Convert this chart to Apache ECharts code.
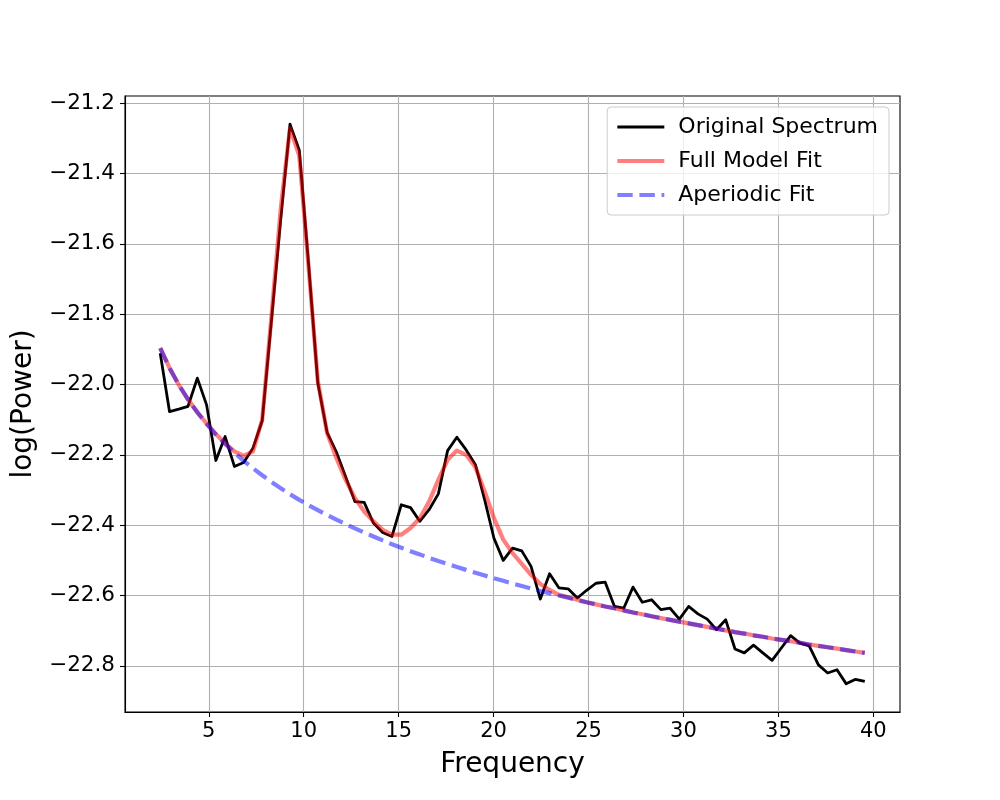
<!DOCTYPE html>
<html>
<head>
<meta charset="utf-8">
<script src="https://cdn.jsdelivr.net/npm/echarts@6/dist/echarts.min.js"></script>
<style>html,body{margin:0;padding:0;background:#fff}#c{width:1000px;height:800px}</style>
</head>
<body>
<div id="c"></div>
<script>
const freqs = [2.441,2.930,3.418,3.906,4.395,4.883,5.371,5.859,6.348,6.836,7.324,7.813,8.301,8.789,9.277,9.766,10.254,10.742,11.230,11.719,12.207,12.695,13.184,13.672,14.160,14.648,15.137,15.625,16.113,16.602,17.090,17.578,18.066,18.555,19.043,19.531,20.020,20.508,20.996,21.484,21.973,22.461,22.949,23.438,23.926,24.414,24.902,25.391,25.879,26.367,26.855,27.344,27.832,28.320,28.809,29.297,29.785,30.273,30.762,31.250,31.738,32.227,32.715,33.203,33.691,34.180,34.668,35.156,35.645,36.133,36.621,37.109,37.598,38.086,38.574,39.063,39.551];

const originalSpectrum = [-21.911,-22.077,-22.070,-22.062,-21.982,-22.058,-22.216,-22.148,-22.233,-22.222,-22.181,-22.103,-21.818,-21.531,-21.260,-21.334,-21.657,-21.996,-22.136,-22.192,-22.262,-22.333,-22.335,-22.394,-22.421,-22.432,-22.342,-22.350,-22.389,-22.356,-22.311,-22.188,-22.150,-22.186,-22.228,-22.328,-22.437,-22.500,-22.465,-22.473,-22.517,-22.610,-22.538,-22.578,-22.581,-22.607,-22.585,-22.565,-22.562,-22.631,-22.636,-22.576,-22.619,-22.612,-22.640,-22.636,-22.667,-22.631,-22.652,-22.667,-22.697,-22.669,-22.752,-22.763,-22.741,-22.763,-22.784,-22.749,-22.714,-22.735,-22.743,-22.797,-22.820,-22.811,-22.851,-22.838,-22.844];

const fullModelFit = [-21.896,-21.953,-22.001,-22.042,-22.079,-22.111,-22.141,-22.167,-22.190,-22.203,-22.190,-22.100,-21.805,-21.500,-21.272,-21.350,-21.665,-21.990,-22.138,-22.209,-22.271,-22.323,-22.361,-22.389,-22.413,-22.427,-22.427,-22.408,-22.380,-22.333,-22.271,-22.214,-22.188,-22.200,-22.235,-22.304,-22.380,-22.441,-22.479,-22.510,-22.541,-22.567,-22.584,-22.598,-22.605,-22.612,-22.619,-22.625,-22.631,-22.636,-22.642,-22.648,-22.653,-22.659,-22.664,-22.669,-22.674,-22.679,-22.684,-22.689,-22.694,-22.699,-22.704,-22.708,-22.713,-22.717,-22.722,-22.726,-22.730,-22.734,-22.739,-22.743,-22.747,-22.751,-22.755,-22.759,-22.763];

const aperiodicFit = [-21.897,-21.953,-22.001,-22.043,-22.079,-22.112,-22.142,-22.169,-22.194,-22.217,-22.238,-22.258,-22.277,-22.295,-22.312,-22.328,-22.343,-22.357,-22.371,-22.384,-22.397,-22.409,-22.421,-22.432,-22.443,-22.454,-22.464,-22.474,-22.483,-22.493,-22.502,-22.510,-22.519,-22.527,-22.535,-22.543,-22.551,-22.558,-22.566,-22.573,-22.580,-22.587,-22.593,-22.600,-22.606,-22.613,-22.619,-22.625,-22.631,-22.636,-22.642,-22.648,-22.653,-22.659,-22.664,-22.669,-22.674,-22.679,-22.684,-22.689,-22.694,-22.699,-22.704,-22.708,-22.713,-22.717,-22.722,-22.726,-22.730,-22.734,-22.739,-22.743,-22.747,-22.751,-22.755,-22.759,-22.763];

const xTicks = [5,10,15,20,25,30,35,40];
const yTicks = [-22.8,-22.6,-22.4,-22.2,-22.0,-21.8,-21.6,-21.4,-21.2];

const FONT = 'DejaVu Sans';
const pairs = arr => freqs.map((f, i) => [f, arr[i]]);
const minus = s => s.replace('-', '\u2212');

const chart = echarts.init(document.getElementById('c'), null, {renderer: 'canvas'});
chart.setOption({
  animation: false,
  backgroundColor: '#ffffff',
  grid: {left: 125, right: 100, top: 96, bottom: 88, show: true, borderColor: '#000', borderWidth: 1.1, backgroundColor: 'transparent'},
  xAxis: {
    type: 'value', min: 0.586, max: 41.406,
    name: 'Frequency', nameLocation: 'middle', nameGap: 39,
    nameTextStyle: {fontFamily: FONT, fontSize: 28, color: '#000'},
    axisLine: {show: true, lineStyle: {color: '#000', width: 1.1}},
    axisTick: {show: true, inside: false, length: 5, lineStyle: {color: '#000', width: 1.1}, customValues: xTicks},
    axisLabel: {customValues: xTicks, margin: 9, fontFamily: FONT, fontSize: 21, color: '#000', formatter: v => minus(String(v))},
    splitLine: {show: true, lineStyle: {color: '#b0b0b0', width: 1.1}}
  },
  yAxis: {
    type: 'value', min: -22.931, max: -21.18,
    name: 'log(Power)', nameLocation: 'middle', nameGap: 75, nameRotate: 90,
    nameTextStyle: {fontFamily: FONT, fontSize: 28, color: '#000'},
    axisLine: {show: true, lineStyle: {color: '#000', width: 1.1}},
    axisTick: {show: true, inside: false, length: 5, lineStyle: {color: '#000', width: 1.1}, customValues: yTicks},
    axisLabel: {customValues: yTicks, margin: 10, fontFamily: FONT, fontSize: 21.5, color: '#000', formatter: v => minus(v.toFixed(1))},
    splitLine: {show: true, lineStyle: {color: '#b0b0b0', width: 1.1}}
  },
  legend: {
    orient: 'vertical', right: 111, top: 107,
    itemWidth: 47, itemHeight: 14, itemGap: 12,
    padding: [9, 11, 9, 8],
    backgroundColor: 'rgba(255,255,255,0.8)', borderColor: '#cccccc', borderWidth: 1, borderRadius: 4,
    itemStyle: {opacity: 0},
    lineStyle: {width: 'inherit', type: 'inherit'},
    textStyle: {fontFamily: FONT, fontSize: 22, color: '#000', padding: [0, 0, 0, 9]},
    data: ['Original Spectrum', 'Full Model Fit', 'Aperiodic Fit']
  },
  series: [
    {name: 'Original Spectrum', type: 'line', data: pairs(originalSpectrum), symbol: 'none', showSymbol: false, z: 2,
     color: '#000000', lineStyle: {color: '#000000', width: 2.8, join: 'round'}},
    {name: 'Full Model Fit', type: 'line', data: pairs(fullModelFit), symbol: 'none', showSymbol: false, z: 3,
     color: 'rgba(255,0,0,0.5)', lineStyle: {color: 'rgba(255,0,0,0.5)', width: 4.2, join: 'round'}},
    {name: 'Aperiodic Fit', type: 'line', data: pairs(aperiodicFit), symbol: 'none', showSymbol: false, z: 4,
     color: 'rgba(0,0,255,0.5)', lineStyle: {color: 'rgba(0,0,255,0.5)', width: 4.2, type: [15.4, 6.7], cap: 'butt'}}
  ]
});
</script>
</body>
</html>
